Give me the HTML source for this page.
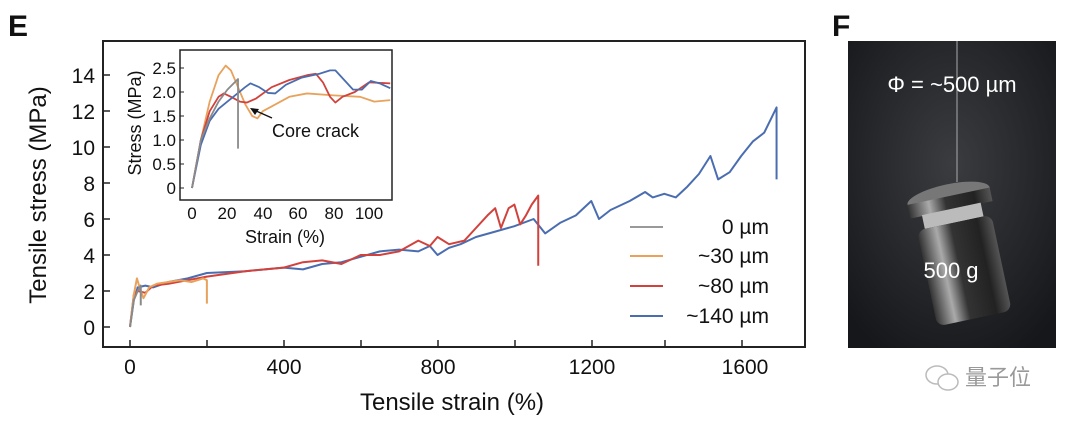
<!DOCTYPE html>
<html><head><meta charset="utf-8"><style>
body{margin:0;background:#fff;width:1080px;height:422px;overflow:hidden}
text{font-family:"Liberation Sans",Arial,sans-serif;fill:#111}
</style></head><body>
<svg width="1080" height="422" viewBox="0 0 1080 422" xmlns="http://www.w3.org/2000/svg">
<text x="8" y="36" font-size="30" font-weight="bold">E</text>
<text x="832" y="36" font-size="30" font-weight="bold">F</text>
<rect x="103" y="41" width="702" height="306" fill="none" stroke="#222" stroke-width="2"/>
<g stroke="#222" stroke-width="1.5">
<line x1="103" y1="327" x2="110" y2="327"/><line x1="103" y1="291" x2="110" y2="291"/><line x1="103" y1="255" x2="110" y2="255"/><line x1="103" y1="219" x2="110" y2="219"/><line x1="103" y1="183" x2="110" y2="183"/><line x1="103" y1="147" x2="110" y2="147"/><line x1="103" y1="111" x2="110" y2="111"/><line x1="103" y1="75" x2="110" y2="75"/>
<line x1="130" y1="347" x2="130" y2="340"/><line x1="207" y1="347" x2="207" y2="340"/><line x1="284" y1="347" x2="284" y2="340"/><line x1="361" y1="347" x2="361" y2="340"/><line x1="438" y1="347" x2="438" y2="340"/><line x1="515" y1="347" x2="515" y2="340"/><line x1="592" y1="347" x2="592" y2="340"/><line x1="665" y1="347" x2="665" y2="340"/><line x1="742" y1="347" x2="742" y2="340"/>
</g>
<g font-size="21" text-anchor="end">
<text x="95" y="335">0</text><text x="95" y="299">2</text><text x="95" y="263">4</text><text x="95" y="227">6</text><text x="95" y="191">8</text><text x="95" y="155">10</text><text x="95" y="119">12</text><text x="95" y="83">14</text>
</g>
<g font-size="21" text-anchor="middle">
<text x="130" y="374">0</text><text x="284" y="374">400</text><text x="438" y="374">800</text><text x="592" y="374">1200</text><text x="745" y="374">1600</text>
</g>
<text x="452" y="410" font-size="24" text-anchor="middle">Tensile strain (%)</text>
<text transform="translate(46,195) rotate(-90)" font-size="24" text-anchor="middle">Tensile stress (MPa)</text>
<g transform="translate(130,327) scale(0.3844,-18)" fill="none" stroke-width="2" stroke-linejoin="round">
<polyline vector-effect="non-scaling-stroke" stroke="#4a6db0" points="0,0 10,1.5 20,2.2 40,2.3 60,2.2 100,2.5 150,2.7 200,3 300,3.1 400,3.3 450,3.2 500,3.5 550,3.6 600,3.9 650,4.2 700,4.3 750,4.2 780,4.5 800,4.0 830,4.4 860,4.6 900,5 950,5.3 1000,5.6 1050,6 1080,5.2 1120,5.8 1160,6.2 1200,7 1220,6 1250,6.5 1300,7 1340,7.5 1360,7.2 1390,7.4 1420,7.2 1450,7.8 1480,8.5 1510,9.5 1530,8.2 1560,8.6 1590,9.5 1620,10.3 1650,10.8 1682,12.2 1682,8.2"/>
<polyline vector-effect="non-scaling-stroke" stroke="#d2423c" points="0,0 10,1.8 20,2 40,1.9 60,2.3 100,2.4 150,2.6 200,2.8 300,3.1 400,3.3 450,3.6 500,3.7 550,3.5 600,4 650,4 700,4.2 750,4.8 780,4.5 800,5 830,4.6 870,4.8 900,5.5 930,6.2 950,6.6 965,5.5 985,6.6 1000,6.8 1015,5.7 1030,6.2 1045,6.8 1062,7.3 1062,3.4"/>
<polyline vector-effect="non-scaling-stroke" stroke="#e8a25c" points="0,0 10,1.8 18,2.7 25,2.2 35,1.6 50,2.2 70,2.4 100,2.5 130,2.6 160,2.5 190,2.7 200,2.6 200,1.3"/>
<polyline vector-effect="non-scaling-stroke" stroke="#8a8a8a" points="0,0 10,1.5 20,2.0 28,2.3 28,1.2"/>
</g>
<g stroke-width="2">
<line x1="630" y1="227" x2="663" y2="227" stroke="#999"/>
<line x1="630" y1="256" x2="663" y2="256" stroke="#e8a25c"/>
<line x1="630" y1="286" x2="663" y2="286" stroke="#d2423c"/>
<line x1="630" y1="316" x2="663" y2="316" stroke="#4a6db0"/>
</g>
<g font-size="21" text-anchor="end">
<text x="769" y="234">0 µm</text><text x="769" y="263">~30 µm</text><text x="769" y="293">~80 µm</text><text x="769" y="323">~140 µm</text>
</g>
<rect x="180" y="50" width="212" height="150" fill="#fff" stroke="#222" stroke-width="1.5"/>
<g stroke="#222" stroke-width="1">
<line x1="180" y1="188" x2="184" y2="188"/><line x1="180" y1="164" x2="184" y2="164"/><line x1="180" y1="140" x2="184" y2="140"/><line x1="180" y1="116" x2="184" y2="116"/><line x1="180" y1="92" x2="184" y2="92"/><line x1="180" y1="68" x2="184" y2="68"/>
</g>
<g font-size="17" text-anchor="end">
<text x="176" y="194">0</text><text x="176" y="170">0.5</text><text x="176" y="146">1.0</text><text x="176" y="122">1.5</text><text x="176" y="98">2.0</text><text x="176" y="74">2.5</text>
</g>
<g font-size="17" text-anchor="middle">
<text x="192" y="219">0</text><text x="227" y="219">20</text><text x="263" y="219">40</text><text x="298" y="219">60</text><text x="334" y="219">80</text><text x="369" y="219">100</text>
</g>
<text x="285" y="243" font-size="18" text-anchor="middle">Strain (%)</text>
<text transform="translate(141,123) rotate(-90)" font-size="18" text-anchor="middle">Stress (MPa)</text>
<g transform="translate(192,188) scale(1.77,-48)" fill="none" stroke-width="1.8" stroke-linejoin="round">
<polyline vector-effect="non-scaling-stroke" stroke="#e8a25c" points="0,0 5,1.0 10,1.8 15,2.35 19,2.55 22,2.45 26,2.1 30,1.75 34,1.5 37,1.45 40,1.6 45,1.7 55,1.9 65,1.97 80,1.93 95,1.9 103,1.8 112,1.83"/>
<polyline vector-effect="non-scaling-stroke" stroke="#d2423c" points="0,0 5,1.0 10,1.6 15,1.9 18,1.97 22,1.9 27,1.8 31,1.78 36,1.86 45,2.1 55,2.25 65,2.35 70,2.38 74,2.2 78,1.9 81,1.78 85,1.9 92,2.0 100,2.2 112,2.18"/>
<polyline vector-effect="non-scaling-stroke" stroke="#4a6db0" points="0,0 5,0.9 10,1.4 15,1.65 20,1.8 25,1.95 30,2.1 33,2.18 38,2.1 43,1.98 47,1.97 53,2.15 62,2.3 72,2.38 78,2.45 81,2.45 86,2.25 91,2.05 96,2.05 101,2.23 106,2.18 112,2.08"/>
<polyline vector-effect="non-scaling-stroke" stroke="#8a8a8a" points="0,0 5,1.0 10,1.45 15,1.8 20,2.05 26,2.27 26,0.82"/>
</g>
<line x1="272" y1="118" x2="254" y2="110" stroke="#111" stroke-width="1.3"/>
<polygon points="250,108 259,109 255,115" fill="#111"/>
<text x="272" y="137" font-size="18">Core crack</text>
<defs><radialGradient id="bg" cx="50%" cy="40%" r="70%"><stop offset="0" stop-color="#3a3c40"/><stop offset="1" stop-color="#16171a"/></radialGradient>
<linearGradient id="met" x1="0" x2="1"><stop offset="0" stop-color="#333"/><stop offset="0.25" stop-color="#aaa"/><stop offset="0.45" stop-color="#333"/><stop offset="0.8" stop-color="#222"/><stop offset="1" stop-color="#555"/></linearGradient></defs>
<rect x="848" y="41" width="208" height="307" fill="url(#bg)"/>
<line x1="957" y1="41" x2="957" y2="182" stroke="#aaa" stroke-width="1"/>
<g transform="rotate(-12 960 250)">
<ellipse cx="960" cy="195" rx="42" ry="12" fill="#777"/>
<rect x="918" y="195" width="84" height="14" fill="url(#met)"/>
<rect x="930" y="208" width="60" height="14" fill="#bbb"/>
<rect x="922" y="222" width="76" height="98" rx="8" fill="url(#met)"/>
</g>
<text x="952" y="92" font-size="22" text-anchor="middle" style="fill:#fff">Φ = ~500 µm</text>
<text x="951" y="278" font-size="22" text-anchor="middle" style="fill:#fff">500 g</text>
<text x="965" y="385" font-size="22" style="fill:#999;font-family:'Liberation Sans','Noto Sans CJK SC',sans-serif">量子位</text>
<ellipse cx="937" cy="375" rx="11" ry="9" fill="none" stroke="#bbb" stroke-width="1.5"/>
<ellipse cx="948" cy="382" rx="10" ry="8" fill="#fff" stroke="#bbb" stroke-width="1.5"/>
</svg>
</body></html>
